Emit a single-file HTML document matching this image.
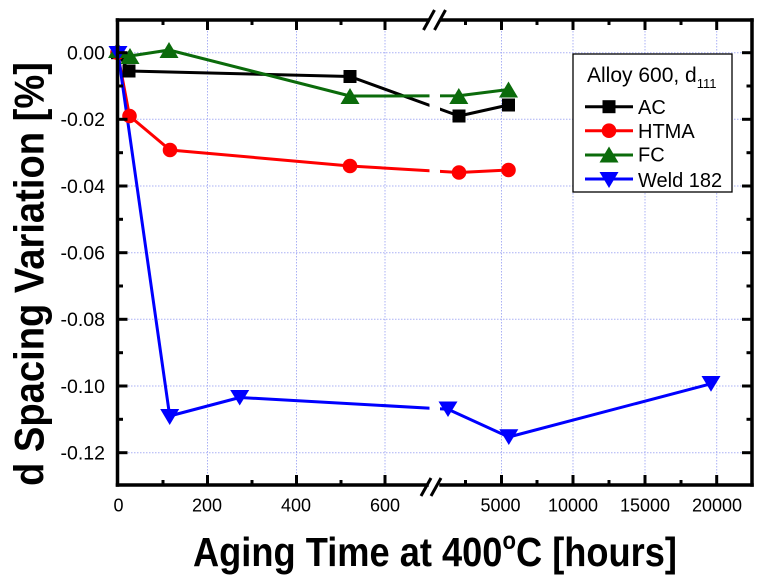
<!DOCTYPE html>
<html><head><meta charset="utf-8"><style>html,body{margin:0;padding:0;background:#fff}svg{display:block}</style></head>
<body>
<svg width="767" height="587" viewBox="0 0 767 587" xmlns="http://www.w3.org/2000/svg" font-family="'Liberation Sans', Arial, sans-serif">
<defs>
<clipPath id="brk"><rect x="0" y="0" width="429.5" height="587"/><rect x="440" y="0" width="327" height="587"/></clipPath>
</defs>
<rect width="767" height="587" fill="#fff"/>
<!-- grid -->
<g stroke="#aab0f5" stroke-width="1" stroke-dasharray="1.5 1.5" fill="none">
<line x1="119" y1="52.7" x2="750" y2="52.7"/>
<line x1="119" y1="119.3" x2="750" y2="119.3"/>
<line x1="119" y1="186" x2="750" y2="186"/>
<line x1="119" y1="252.7" x2="750" y2="252.7"/>
<line x1="119" y1="319.3" x2="750" y2="319.3"/>
<line x1="119" y1="386" x2="750" y2="386"/>
<line x1="119" y1="452.7" x2="750" y2="452.7"/>
<line x1="207.5" y1="22" x2="207.5" y2="483"/>
<line x1="296.5" y1="22" x2="296.5" y2="483"/>
<line x1="385" y1="22" x2="385" y2="483"/>
<line x1="501.5" y1="22" x2="501.5" y2="483"/>
<line x1="573" y1="22" x2="573" y2="483"/>
<line x1="645" y1="22" x2="645" y2="483"/>
<line x1="716.7" y1="22" x2="716.7" y2="483"/>
</g>
<!-- series lines -->
<g clip-path="url(#brk)" fill="none" stroke-width="3" stroke-linejoin="round">
<polyline stroke="#000" points="117.5,52.7 129,71 350,76.5 459,116 508.5,105"/>
<polyline stroke="#ff0000" points="117.5,52.7 129.5,116 170,150 350,166 459,172.5 508.5,170"/>
<polyline stroke="#0b6b0b" points="117.5,50 130,56 169,50 350,96 458.8,95.8 508.5,89.5"/>
<polyline stroke="#0000ff" points="118,53 169.7,416 239.7,397.5 448,409.2 508.8,437 710.8,383.8"/>
</g>
<!-- markers -->
<g fill="#000">
<rect x="111" y="46.2" width="13" height="13"/>
<rect x="122.5" y="64.5" width="13" height="13"/>
<rect x="343.5" y="70" width="13" height="13"/>
<rect x="452.5" y="109.5" width="13" height="13"/>
<rect x="502" y="98.5" width="13" height="13"/>
</g>
<g fill="#ff0000">
<circle cx="117.5" cy="52.7" r="7.3"/>
<circle cx="129.5" cy="116" r="7.3"/>
<circle cx="170" cy="150" r="7.3"/>
<circle cx="350" cy="166" r="7.3"/>
<circle cx="459" cy="172.5" r="7.3"/>
<circle cx="508.5" cy="170" r="7.3"/>
</g>
<g fill="#0b6b0b">
<polygon points="117.5,42 127,58 108,58"/>
<polygon points="130,48 139.5,64 120.5,64"/>
<polygon points="169,42 178.5,58 159.5,58"/>
<polygon points="350,88 359.5,104 340.5,104"/>
<polygon points="458.8,88 468.3,104 449.3,104"/>
<polygon points="508.5,81.5 518,97.5 499,97.5"/>
</g>
<g fill="#0000ff">
<polygon points="108.5,46 127.5,46 118,61"/>
<polygon points="160.2,409 179.2,409 169.7,425"/>
<polygon points="230.2,390 249.2,390 239.7,405.5"/>
<polygon points="438.5,401.5 457.5,401.5 448,417"/>
<polygon points="499.3,429.3 518.3,429.3 508.8,445"/>
<polygon points="701.5,376 720.5,376 711,391.7"/>
</g>
<!-- frame -->
<g stroke="#000" stroke-width="3.5" fill="none" stroke-linecap="square">
<line x1="117.5" y1="20" x2="117.5" y2="485"/>
<line x1="752" y1="20" x2="752" y2="485"/>
<line x1="117.5" y1="20" x2="428" y2="20"/>
<line x1="442" y1="20" x2="752" y2="20"/>
<line x1="117.5" y1="485" x2="427" y2="485"/>
<line x1="441" y1="485" x2="752" y2="485"/>
</g>
<g stroke="#000" stroke-width="3" fill="none">
<line x1="423.5" y1="30" x2="434.5" y2="10"/>
<line x1="434.5" y1="30" x2="445.5" y2="10"/>
<line x1="421" y1="496" x2="431" y2="478"/>
<line x1="431" y1="496" x2="441" y2="478"/>
</g>
<!-- ticks -->
<g stroke="#000" stroke-width="3">
<!-- bottom major -->
<line x1="207.5" y1="485" x2="207.5" y2="475"/><line x1="296.5" y1="485" x2="296.5" y2="475"/><line x1="385" y1="485" x2="385" y2="475"/><line x1="501.5" y1="485" x2="501.5" y2="475"/><line x1="573" y1="485" x2="573" y2="475"/><line x1="645" y1="485" x2="645" y2="475"/><line x1="716.7" y1="485" x2="716.7" y2="475"/>
<!-- bottom minor -->
<line x1="163" y1="485" x2="163" y2="480"/><line x1="252" y1="485" x2="252" y2="480"/><line x1="341" y1="485" x2="341" y2="480"/><line x1="465.5" y1="485" x2="465.5" y2="480"/><line x1="537" y1="485" x2="537" y2="480"/><line x1="609" y1="485" x2="609" y2="480"/><line x1="681" y1="485" x2="681" y2="480"/>
<!-- top major -->
<line x1="207.5" y1="20" x2="207.5" y2="30"/><line x1="296.5" y1="20" x2="296.5" y2="30"/><line x1="385" y1="20" x2="385" y2="30"/><line x1="501.5" y1="20" x2="501.5" y2="30"/><line x1="573" y1="20" x2="573" y2="30"/><line x1="645" y1="20" x2="645" y2="30"/><line x1="716.7" y1="20" x2="716.7" y2="30"/>
<!-- top minor -->
<line x1="163" y1="20" x2="163" y2="25"/><line x1="252" y1="20" x2="252" y2="25"/><line x1="341" y1="20" x2="341" y2="25"/><line x1="465.5" y1="20" x2="465.5" y2="25"/><line x1="537" y1="20" x2="537" y2="25"/><line x1="609" y1="20" x2="609" y2="25"/><line x1="681" y1="20" x2="681" y2="25"/>
<!-- left major -->
<line x1="117.5" y1="52.7" x2="127.5" y2="52.7"/><line x1="117.5" y1="119.3" x2="127.5" y2="119.3"/><line x1="117.5" y1="186" x2="127.5" y2="186"/><line x1="117.5" y1="252.7" x2="127.5" y2="252.7"/><line x1="117.5" y1="319.3" x2="127.5" y2="319.3"/><line x1="117.5" y1="386" x2="127.5" y2="386"/><line x1="117.5" y1="452.7" x2="127.5" y2="452.7"/>
<!-- left minor -->
<line x1="117.5" y1="86" x2="123" y2="86"/><line x1="117.5" y1="152.7" x2="123" y2="152.7"/><line x1="117.5" y1="219.3" x2="123" y2="219.3"/><line x1="117.5" y1="286" x2="123" y2="286"/><line x1="117.5" y1="352.7" x2="123" y2="352.7"/><line x1="117.5" y1="419.3" x2="123" y2="419.3"/>
<!-- right major -->
<line x1="752" y1="52.7" x2="742" y2="52.7"/><line x1="752" y1="119.3" x2="742" y2="119.3"/><line x1="752" y1="186" x2="742" y2="186"/><line x1="752" y1="252.7" x2="742" y2="252.7"/><line x1="752" y1="319.3" x2="742" y2="319.3"/><line x1="752" y1="386" x2="742" y2="386"/><line x1="752" y1="452.7" x2="742" y2="452.7"/>
<!-- right minor -->
<line x1="752" y1="86" x2="746.5" y2="86"/><line x1="752" y1="152.7" x2="746.5" y2="152.7"/><line x1="752" y1="219.3" x2="746.5" y2="219.3"/><line x1="752" y1="286" x2="746.5" y2="286"/><line x1="752" y1="352.7" x2="746.5" y2="352.7"/><line x1="752" y1="419.3" x2="746.5" y2="419.3"/>
</g>
<!-- tick labels -->
<g font-size="19.5" fill="#000" text-anchor="end">
<text x="105" y="59.5">0.00</text>
<text x="105" y="126.2">-0.02</text>
<text x="105" y="192.8">-0.04</text>
<text x="105" y="259.5">-0.06</text>
<text x="105" y="326.2">-0.08</text>
<text x="105" y="392.8">-0.10</text>
<text x="105" y="459.5">-0.12</text>
</g>
<g font-size="18" fill="#000" text-anchor="middle">
<text x="118.5" y="511.5">0</text>
<text x="207" y="511.5">200</text>
<text x="296" y="511.5">400</text>
<text x="385" y="511.5">600</text>
<text x="500.5" y="511.5">5000</text>
<text x="573" y="511.5">10000</text>
<text x="645" y="511.5">15000</text>
<text x="717" y="511.5">20000</text>
</g>
<!-- axis titles -->
<text x="193" y="566" font-size="41" font-weight="bold" textLength="484" lengthAdjust="spacingAndGlyphs">Aging Time at 400<tspan font-size="25" dy="-17">o</tspan><tspan dy="17">C [hours]</tspan></text>
<text transform="translate(43.5,274) rotate(-90)" text-anchor="middle" font-size="42" font-weight="bold" textLength="424" lengthAdjust="spacingAndGlyphs">d Spacing Variation [%]</text>
<!-- legend -->
<rect x="573" y="54" width="159" height="138" fill="#fff" stroke="#000" stroke-width="1.3"/>
<text x="587" y="82" font-size="21">Alloy 600, d<tspan font-size="13" dy="6">111</tspan></text>
<g stroke-width="3">
<line x1="585" y1="106.7" x2="633" y2="106.7" stroke="#000"/>
<line x1="585" y1="130.7" x2="633" y2="130.7" stroke="#ff0000"/>
<line x1="585" y1="155" x2="633" y2="155" stroke="#0b6b0b"/>
<line x1="585" y1="179" x2="633" y2="179" stroke="#0000ff"/>
</g>
<rect x="602.5" y="100.2" width="13" height="13" fill="#000"/>
<circle cx="609" cy="130.7" r="7.3" fill="#ff0000"/>
<polygon points="609,146.5 618.5,162.5 599.5,162.5" fill="#0b6b0b"/>
<polygon points="599.5,172 618.5,172 609,188" fill="#0000ff"/>
<g font-size="20" fill="#000">
<text x="638" y="114">AC</text>
<text x="638" y="138">HTMA</text>
<text x="638" y="161.5">FC</text>
<text x="638" y="187">Weld 182</text>
</g>
</svg>
</body></html>
